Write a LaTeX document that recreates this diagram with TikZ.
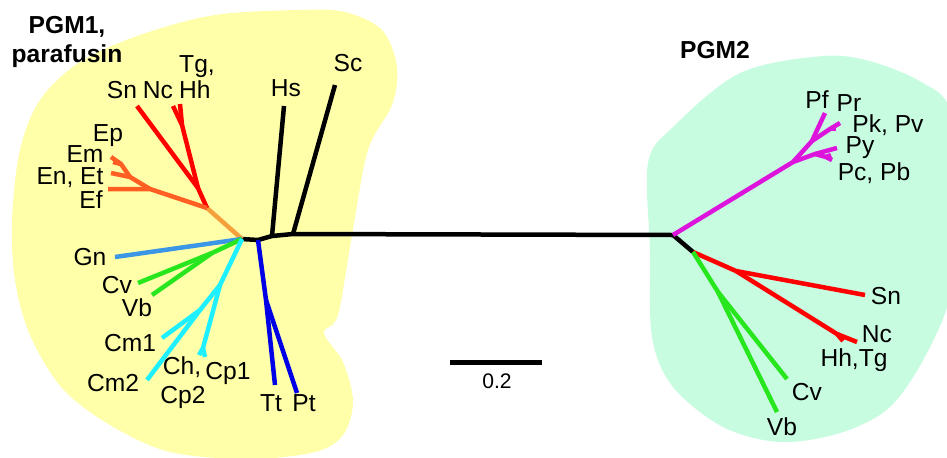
\documentclass[tikz,border=0pt]{standalone}
\usepackage{fontspec}
\setmainfont{Liberation Sans}
\usepackage{tikz}
\definecolor{pgmyellow}{RGB}{255,255,170}
\definecolor{pgmmint}{RGB}{200,252,225}
\definecolor{apired}{RGB}{255,0,0}
\definecolor{apiorange}{RGB}{245,160,60}
\definecolor{eimred}{RGB}{255,95,35}
\definecolor{gnblue}{RGB}{60,150,230}
\definecolor{chrgreen}{RGB}{40,230,30}
\definecolor{crycyan}{RGB}{30,240,255}
\definecolor{cilblue}{RGB}{0,0,230}
\definecolor{plasmo}{RGB}{220,20,220}

\begin{document}
\begin{tikzpicture}[x=0.02cm, y=-0.02cm,
    twig/.style={line width=0.09cm},
    lbl/.style={font=\fontsize{14}{14.5}\selectfont, inner sep=0pt},
    grp/.style={font=\bfseries\fontsize{14}{17}\selectfont, align=center, inner sep=0pt}]
    \useasboundingbox (0,0) rectangle (947,457);
    \clip (0,0) rectangle (947,457);
    \fill[pgmyellow] plot[smooth cycle, tension=0.55] coordinates {
        (300,10) (345,12) (382,30) (397,67) (392,105) (368,150) (352,235)
        (338,315) (324,333) (343,362) (353,402) (343,435) (315,452) (250,459)
        (170,452) (110,425) (62,388) (30,335) (15,280) (12,220) (20,150)
        (40,100) (80,62) (140,35) (215,15)};
    \fill[pgmmint] plot[smooth cycle, tension=0.55] coordinates {
        (648,163) (650,250) (652,337) (673,387) (723,427) (780,442) (840,433)
        (890,407) (927,353) (952,290) (962,200) (950,110) (923,83) (873,62)
        (823,56) (740,73) (673,127)};

    \node[grp] (pgm1) at (67,42) {PGM1,\\parafusin};
    \node[grp] (pgm2) at (715,50) {PGM2};

    \coordinate (hubL) at (242,239);
    \coordinate (bT) at (258,240);
    \coordinate (bH) at (272,236);
    \coordinate (bS) at (293,234);
    \coordinate (hubR) at (673,235);
    \coordinate (bRG) at (693,252);
    \draw[twig] (hubL) -- (bT) -- (bH) -- (bS) -- (hubR) -- (bRG);

    \coordinate (tHs) at (284,106);
    \coordinate (tSc) at (335,85);
    \draw[twig] (bH) -- (tHs);
    \draw[twig] (bS) -- (tSc);
    \node[lbl] (Hs) at (286,88) {Hs};
    \node[lbl] (Sc) at (348,63) {Sc};

    \coordinate (o1) at (207,208);
    \coordinate (r1) at (198,188);
    \coordinate (r2) at (182,125);
    \coordinate (tSn) at (137,106);
    \coordinate (tNc) at (173,106);
    \coordinate (tHh) at (180,104);
    \draw[twig, apiorange] (hubL) -- (o1);
    \draw[twig, apired] (o1) -- (r1) -- (tSn);
    \draw[twig, apired] (r1) -- (r2) -- (tNc);
    \draw[twig, apired] (r2) -- (tHh);
    \node[lbl] (Sn) at (122,90) {Sn};
    \node[lbl] (Nc) at (158,90) {Nc};
    \node[lbl, align=left] (TgHh) at (197,77) {Tg,\\Hh};

    \coordinate (e1) at (150,189);
    \coordinate (e2) at (130,177);
    \coordinate (e3) at (121,164);
    \coordinate (tEf) at (108,189);
    \coordinate (tEn) at (111,173);
    \coordinate (tEm) at (111,157);
    \coordinate (tEp) at (113,162);
    \draw[twig, eimred] (o1) -- (e1) -- (tEf);
    \draw[twig, eimred] (e1) -- (e2) -- (tEn);
    \draw[twig, eimred] (e2) -- (e3) -- (tEm);
    \draw[twig, eimred] (e3) -- (tEp);
    \node[lbl] (Ep) at (108,136) {Ep};
    \node[lbl] (Em) at (85,154) {Em};
    \node[lbl] (EnEt) at (70,178) {En, Et};
    \node[lbl] (Ef) at (91,200) {Ef};

    \coordinate (tGn) at (115,257);
    \draw[twig, gnblue] (hubL) -- (tGn);
    \node[lbl] (Gn) at (90,257) {Gn};

    \coordinate (g1) at (212,253);
    \coordinate (tCv) at (138,283);
    \coordinate (tVb) at (152,295);
    \draw[twig, chrgreen] (hubL) -- (g1) -- (tCv);
    \draw[twig, chrgreen] (g1) -- (tVb);
    \node[lbl] (Cv) at (117,285) {Cv};
    \node[lbl] (Vb) at (137,308) {Vb};

    \coordinate (c1) at (220,285);
    \coordinate (c2) at (200,310);
    \coordinate (c3) at (203,348);
    \coordinate (tCm1) at (162,338);
    \coordinate (tCm2) at (147,380);
    \coordinate (tCh) at (199,355);
    \coordinate (tCp) at (205,357);
    \draw[twig, crycyan] (hubL) -- (c1) -- (c2) -- (tCm1);
    \draw[twig, crycyan] (c2) -- (tCm2);
    \draw[twig, crycyan] (c1) -- (c3) -- (tCh);
    \draw[twig, crycyan] (c3) -- (tCp);
    \node[lbl] (Cm1) at (130,343) {Cm1};
    \node[lbl] (Cm2) at (113,383) {Cm2};
    \node[lbl] (Ch) at (182,367) {Ch,};
    \node[lbl] (Cp1) at (228,373) {Cp1};
    \node[lbl] (Cp2) at (183,397) {Cp2};

    \coordinate (d1) at (266,300);
    \coordinate (tTt) at (275,385);
    \coordinate (tPt) at (297,393);
    \draw[twig, cilblue] (bT) -- (d1) -- (tTt);
    \draw[twig, cilblue] (d1) -- (tPt);
    \node[lbl] (Tt) at (271,403) {Tt};
    \node[lbl] (Pt) at (304,403) {Pt};

    \coordinate (m1) at (793,162);
    \coordinate (m2) at (812,141);
    \coordinate (m3) at (830,129);
    \coordinate (m4) at (815,154);
    \coordinate (m5) at (826,157);
    \coordinate (tPf) at (825,113);
    \coordinate (tPr) at (840,123);
    \coordinate (tPk) at (836,129);
    \coordinate (tPy) at (837,148);
    \coordinate (tPc) at (832,160);
    \coordinate (tPb) at (831,155);
    \draw[twig, plasmo] (hubR) -- (m1) -- (m2) -- (tPf);
    \draw[twig, plasmo] (m2) -- (m3) -- (tPr);
    \draw[twig, plasmo] (m3) -- (tPk);
    \draw[twig, plasmo] (m1) -- (m4) -- (tPy);
    \draw[twig, plasmo] (m4) -- (m5) -- (tPc);
    \draw[twig, plasmo] (m5) -- (tPb);
    \node[lbl] (Pf) at (817,100) {Pf};
    \node[lbl] (Pr) at (849,103) {Pr};
    \node[lbl] (PkPv) at (888,125) {Pk, Pv};
    \node[lbl] (Py) at (860,148) {Py};
    \node[lbl] (PcPb) at (874,173) {Pc, Pb};

    \coordinate (r3) at (736,271);
    \coordinate (r4) at (837,334);
    \coordinate (tSn2) at (865,295);
    \coordinate (tNc2) at (857,342);
    \coordinate (tHh2) at (843,341);
    \draw[twig, apired] (bRG) -- (r3) -- (tSn2);
    \draw[twig, apired] (r3) -- (r4) -- (tNc2);
    \draw[twig, apired] (r4) -- (tHh2);
    \node[lbl] (Sn2) at (886,296) {Sn};
    \node[lbl] (Nc2) at (877,334) {Nc};
    \node[lbl] (HhTg) at (854,360) {Hh,Tg};

    \coordinate (g2) at (718,292);
    \coordinate (tCv2) at (787,379);
    \coordinate (tVb2) at (777,412);
    \draw[twig, chrgreen] (bRG) -- (g2) -- (tCv2);
    \draw[twig, chrgreen] (g2) -- (tVb2);
    \node[lbl] (Cv2) at (807,392) {Cv};
    \node[lbl] (Vb2) at (782,427) {Vb};

    \coordinate (sb1) at (450,362);
    \coordinate (sb2) at (542,362);
    \draw[line width=0.1cm] (sb1) -- (sb2);
    \node[font=\fontsize{12}{12}\selectfont, inner sep=0pt] (sblbl) at (497,381) {0.2};
\end{tikzpicture}
\end{document}
